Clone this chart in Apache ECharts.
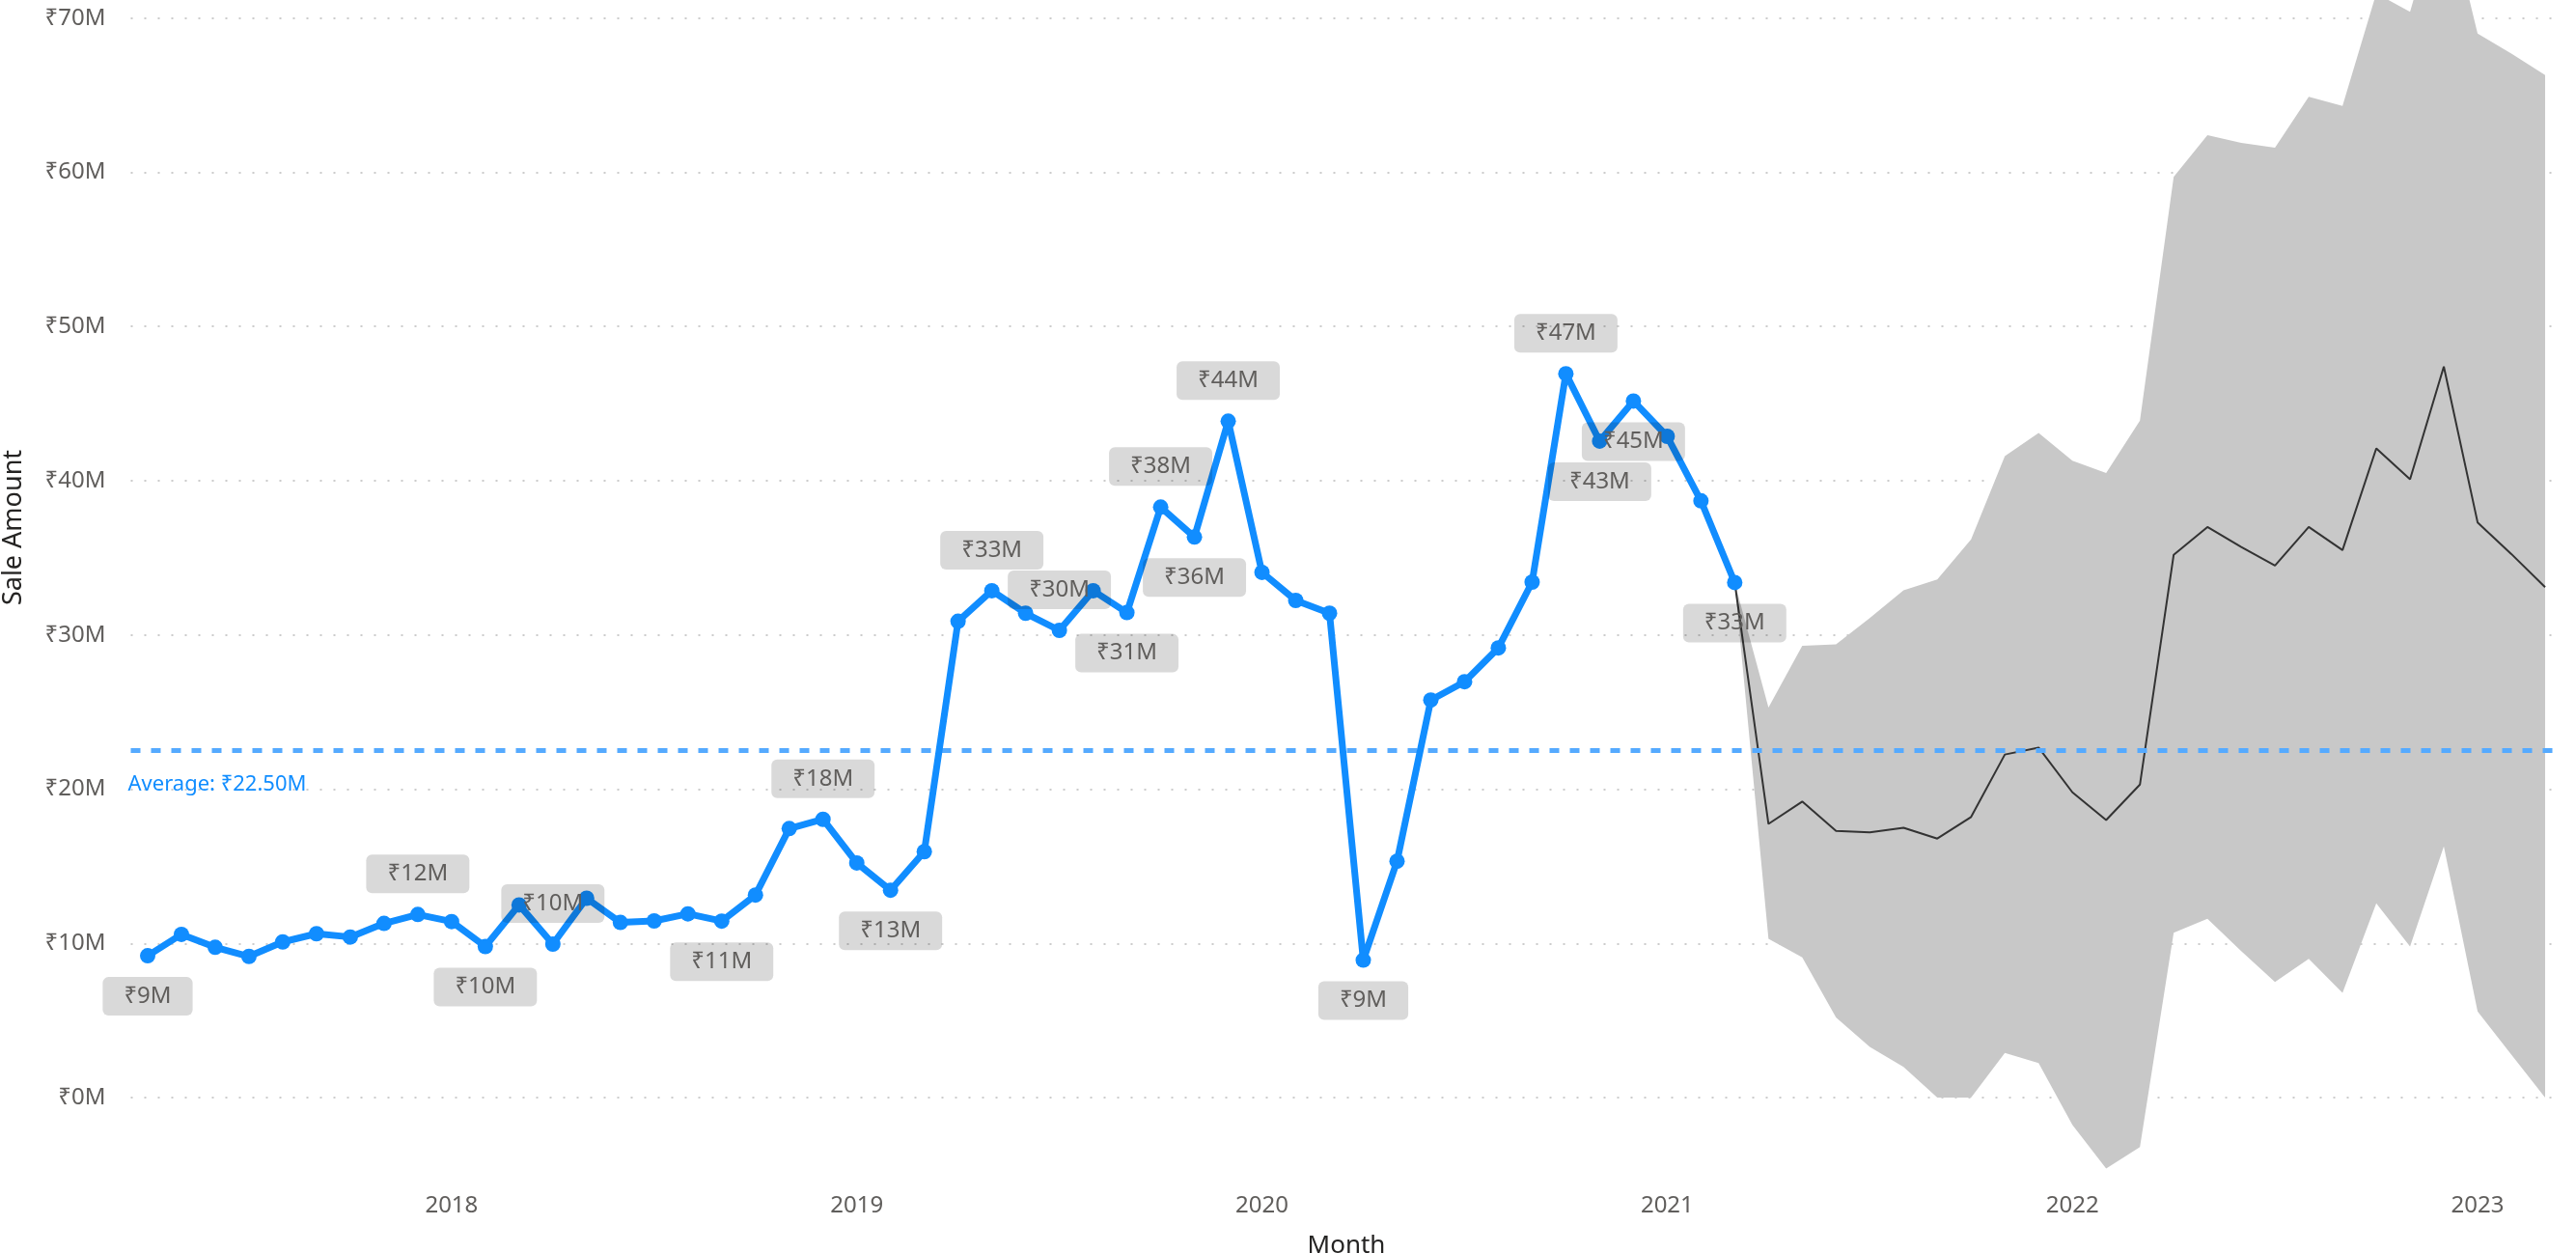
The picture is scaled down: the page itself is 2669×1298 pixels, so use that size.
<!DOCTYPE html>
<html lang="en">
<head>
<meta charset="UTF-8">
<title>Sale Amount by Month</title>
<script src="https://cdn.jsdelivr.net/npm/echarts@6/dist/echarts.min.js"></script>
<style>
  html, body { margin: 0; padding: 0; background: #fff; }
  #chart { width: 2669px; height: 1298px; }
</style>
</head>
<body>
<div id="chart"></div>
<script>
// months on the x axis (Apr 2017 .. Mar 2023)
var months = [
  '2017-04','2017-05','2017-06','2017-07','2017-08','2017-09','2017-10','2017-11','2017-12',
  '2018-01','2018-02','2018-03','2018-04','2018-05','2018-06','2018-07','2018-08','2018-09','2018-10','2018-11','2018-12',
  '2019-01','2019-02','2019-03','2019-04','2019-05','2019-06','2019-07','2019-08','2019-09','2019-10','2019-11','2019-12',
  '2020-01','2020-02','2020-03','2020-04','2020-05','2020-06','2020-07','2020-08','2020-09','2020-10','2020-11','2020-12',
  '2021-01','2021-02','2021-03','2021-04','2021-05','2021-06','2021-07','2021-08','2021-09','2021-10','2021-11','2021-12',
  '2022-01','2022-02','2022-03','2022-04','2022-05','2022-06','2022-07','2022-08','2022-09','2022-10','2022-11','2022-12',
  '2023-01','2023-02','2023-03'
];

// actual sale amount, ₹ millions (Apr 2017 .. Mar 2021)
var saleAmount = [
  9.2, 10.59, 9.75, 9.16, 10.1, 10.63, 10.42, 11.3, 11.88,
  11.42, 9.8, 12.5, 9.96, 12.93, 11.36, 11.46, 11.92, 11.45, 13.14, 17.45, 18.05,
  15.22, 13.45, 15.95, 30.89, 32.87, 31.41, 30.3, 32.87, 31.45, 38.29, 36.35, 43.86,
  34.06, 32.24, 31.41, 8.92, 15.33, 25.78, 26.97, 29.16, 33.43, 46.94, 42.57, 45.17,
  42.88, 38.7, 33.4
];

// forecast, ₹ millions (Mar 2021 .. Mar 2023, first value = last actual)
var forecast = [
  33.4, 17.75, 19.2, 17.3, 17.2, 17.5, 16.8, 18.2, 22.25, 22.7,
  19.8, 18.0, 20.3, 35.2, 37.0, 35.7, 34.5, 37.0, 35.5, 42.1, 40.1, 47.4,
  37.3, 35.25, 33.1
];
var forecastUpper = [
  33.4, 25.3, 29.3, 29.4, 31.1, 32.9, 33.6, 36.2, 41.6, 43.1,
  41.3, 40.5, 43.9, 59.7, 62.4, 61.9, 61.6, 64.9, 64.3, 71.6, 70.4, 78.0,
  69.0, 67.7, 66.3
];
var forecastLower = [
  33.4, 10.3, 9.1, 5.2, 3.3, 2.0, 0.0, 0.0, 2.9, 2.25,
  -1.76, -4.6, -3.2, 10.7, 11.6, 9.5, 7.5, 9.0, 6.8, 12.6, 9.8, 16.3,
  5.6, 2.8, 0.0
];

var averageSale = 22.5;
var yTicks = [0, 10, 20, 30, 40, 50, 60, 70];

// which points get a data label, and where
var labelSpots = {
  0: 'bottom', 8: 'top', 10: 'bottom', 12: 'top', 17: 'bottom', 20: 'top',
  22: 'bottom', 25: 'top', 27: 'top', 29: 'bottom', 30: 'top', 31: 'bottom',
  32: 'top', 36: 'bottom', 42: 'top', 43: 'bottom', 44: 'bottom', 47: 'bottom'
};

var FONT = '"Noto Sans", "Open Sans", sans-serif';
var fcStart = saleAmount.length - 1;

function pad(arr, before) {
  var out = [];
  for (var i = 0; i < months.length; i++) {
    var j = i - before;
    out.push(j >= 0 && j < arr.length ? arr[j] : null);
  }
  return out;
}

var actualData = pad(saleAmount, 0).map(function (v, i) {
  if (v === null || !labelSpots[i]) return v;
  return { value: v, label: { show: true, position: labelSpots[i] } };
});
var fcData = pad(forecast, fcStart);
var lowData = pad(forecastLower, fcStart);
var spanData = pad(forecastUpper.map(function (u, i) { return u - forecastLower[i]; }), fcStart);

var chart = echarts.init(document.getElementById('chart'));
chart.setOption({
  animation: false,
  backgroundColor: '#ffffff',
  textStyle: { fontFamily: FONT },
  grid: { left: 135.5, right: 14.5, top: 0, bottom: 81, containLabel: false, outerBoundsMode: 'none' },
  xAxis: {
    type: 'category',
    data: months,
    boundaryGap: true,
    axisLine: { show: false },
    axisTick: { show: false },
    axisLabel: {
      interval: function (idx, val) { return val.slice(5) === '01'; },
      formatter: function (val) { return val.slice(0, 4); },
      color: '#605e5c', fontSize: 24, margin: 20, fontFamily: FONT
    },
    name: 'Month',
    nameLocation: 'middle',
    nameGap: 61,
    nameTextStyle: { color: '#252423', fontSize: 26, fontFamily: FONT }
  },
  yAxis: {
    type: 'value',
    min: -5,
    max: 71.17,
    minInterval: 10,
    maxInterval: 10,
    axisLine: { show: false },
    axisTick: { show: false },
    axisLabel: {
      color: '#605e5c', fontSize: 24, margin: 26, fontFamily: FONT,
      formatter: function (v) { return yTicks.indexOf(v) >= 0 ? '₹' + v + 'M' : ''; }
    },
    splitLine: {
      show: true, showMinLine: false, showMaxLine: false,
      lineStyle: { color: '#cccccc', width: 2, type: [2, 12] }
    },
    name: 'Sale Amount',
    nameLocation: 'middle',
    nameGap: 108,
    nameTextStyle: { color: '#252423', fontSize: 27, fontFamily: FONT, padding: [0, 0, 0, 124] }
  },
  series: [
    {
      name: 'band base',
      type: 'line',
      data: lowData,
      stack: 'band',
      stackStrategy: 'all',
      symbol: 'none',
      lineStyle: { width: 0, opacity: 0 },
      z: 1
    },
    {
      name: 'band',
      type: 'line',
      data: spanData,
      stack: 'band',
      stackStrategy: 'all',
      symbol: 'none',
      lineStyle: { width: 0, opacity: 0 },
      areaStyle: { color: '#c8c8c8', opacity: 1 },
      z: 1
    },
    {
      name: 'Forecast',
      type: 'line',
      data: fcData,
      symbol: 'none',
      lineStyle: { color: '#333333', width: 2 },
      z: 2
    },
    {
      name: 'Sale Amount',
      type: 'line',
      data: actualData,
      symbol: 'circle',
      symbolSize: 16,
      itemStyle: { color: '#118dff' },
      lineStyle: { color: '#118dff', width: 7 },
      label: {
        show: false,
        formatter: function (p) { return '₹' + Math.round(p.value) + 'M'; },
        color: '#605e5c',
        fontSize: 24,
        fontFamily: FONT,
        backgroundColor: 'rgba(0,0,0,0.15)',
        borderRadius: 6,
        padding: [8, 22],
        distance: 14
      },
      markLine: {
        silent: true,
        symbol: 'none',
        data: [{ yAxis: averageSale }],
        lineStyle: { color: '#55aaff', width: 5, type: [10, 11] },
        label: {
          position: 'insideStartBottom',
          formatter: 'Average: ₹' + averageSale.toFixed(2) + 'M',
          color: '#118dff',
          fontSize: 22,
          fontFamily: FONT,
          distance: [-3, 24]
        },
        z: 3
      },
      z: 4
    }
  ]
});
</script>
</body>
</html>
